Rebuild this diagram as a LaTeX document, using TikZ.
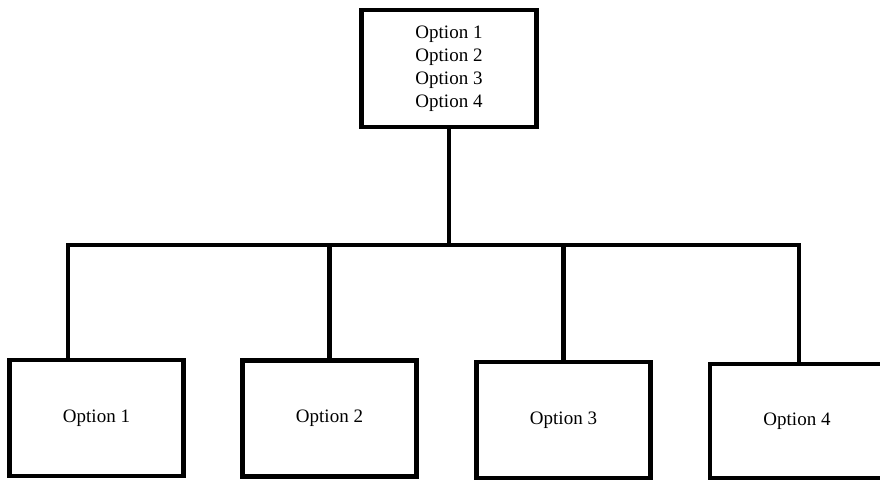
\documentclass[tikz,border=0pt]{standalone}
\usepackage{fontspec}
\setmainfont{Liberation Serif}

\begin{document}
\begin{tikzpicture}[x=1pt,y=-1pt,line width=4.6pt,
  optbox/.style={draw,rectangle,inner sep=0pt,minimum width=174pt,minimum height=116pt,
    font=\fontsize{19pt}{23pt}\selectfont,align=center}]
  \useasboundingbox (0,0) rectangle (880,481);
  % caja superior con todas las opciones
  \node[optbox,minimum width=175pt,minimum height=117pt] (menu) at (449,68.5)
    {Option 1\\Option 2\\Option 3\\Option 4};
  % cajas inferiores
  \node[optbox] (opt1) at (96.5,418) {Option 1};
  \node[optbox] (opt2) at (329.5,418.5) {Option 2};
  \node[optbox] (opt3) at (563.5,420) {Option 3};
  \node[optbox,minimum height=114pt] (opt4) at (797,421) {Option 4};
  % barra horizontal y ramas
  \coordinate (bar) at (449,245);
  \coordinate (barL) at (68,245);
  \coordinate (barR) at (799,245);
  \draw (menu.south) -- (bar);
  \draw (barL |- opt1.north) -- (barL) -- (barR) -- (barR |- opt4.north);
  \draw (opt2.north |- bar) -- (opt2.north);
  \draw (opt3.north |- bar) -- (opt3.north);
\end{tikzpicture}
\end{document}
